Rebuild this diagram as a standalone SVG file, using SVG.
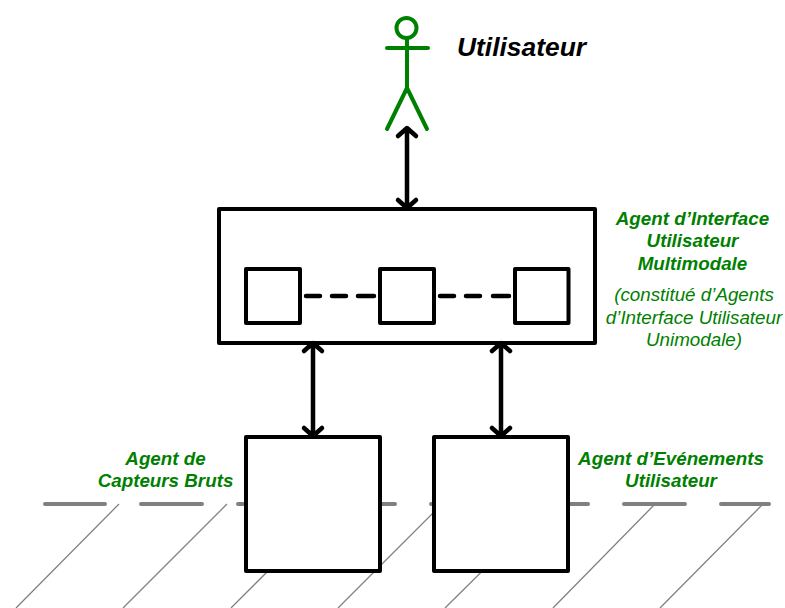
<svg xmlns="http://www.w3.org/2000/svg" width="785" height="608" viewBox="0 0 785 608">
<style>
text{font-family:"Liberation Sans",Arial,sans-serif;text-anchor:middle;fill:#008000;font-style:italic}
.b{font-weight:bold}
.box{fill:#fff;stroke:#000;stroke-width:4;stroke-linejoin:round}
.con{fill:none;stroke:#000;stroke-width:4.500;stroke-linecap:round;stroke-linejoin:round}
.g{fill:none;stroke:#808080;stroke-width:4;stroke-linecap:round}
.h{fill:none;stroke:#808080;stroke-width:1.300}
.act{fill:none;stroke:#008000;stroke-width:4;stroke-linecap:round;stroke-linejoin:round}
</style>
<g id="ground">
<path class="g" d="M45 504H105M141 504H202M238 504H299M334 504H395M431 504H492M527 504H588M624 504H685M721 504H769"/>
<path class="h" d="M119 504L16 608M227 504L123 608M335 504L231 608M442 504L338 608M550 504L445 608M655 504L553 608M763 504L660 608"/>
</g>
<g id="actor">
<circle class="act" cx="406.500" cy="28" r="10"/>
<path class="act" d="M407 38V88M387 48H428M407 88L387 129M407 88L427 129"/>
<text class="b" x="521.500" y="56" style="fill:#000" font-size="26.400">Utilisateur</text>
</g>
<g id="agent-interface">
<rect class="box" x="219" y="209" width="376" height="134"/>
<text class="b" x="692.500" y="225" font-size="18.800">Agent d’Interface</text>
<text class="b" x="692.500" y="247" font-size="18.800">Utilisateur</text>
<text class="b" x="692.500" y="270" font-size="18.800">Multimodale</text>
<text x="694" y="301" font-size="18.800">(constitué d’Agents</text>
<text x="694" y="324" font-size="18.800">d’Interface Utilisateur</text>
<text x="694" y="346" font-size="18.800">Unimodale)</text>
</g>
<g id="sub-1"><rect class="box" x="246" y="269" width="54" height="54"/></g>
<g id="sub-2"><rect class="box" x="380" y="269" width="54" height="54"/></g>
<g id="sub-3"><rect class="box" x="515" y="269" width="53.500" height="54"/></g>
<g id="agent-capteurs">
<rect class="box" x="246" y="437" width="134" height="134"/>
<text class="b" x="165.500" y="465" font-size="18.800">Agent de</text>
<text class="b" x="165.500" y="487" font-size="18.800">Capteurs Bruts</text>
</g>
<g id="agent-evenements">
<rect class="box" x="434" y="437" width="134" height="134"/>
<text class="b" x="671" y="465" font-size="18.800">Agent d’Evénements</text>
<text class="b" x="671" y="487" font-size="18.800">Utilisateur</text>
</g>
<g id="connectors">
<path class="con" d="M407 129V208M398 136L407 128L416 136M398 200L407 208L416 200"/>
<path class="con" d="M313 344V436M304 351L313 343L322 351M304 428L313 436L322 428"/>
<path class="con" d="M501 344V436M492 351L501 343L510 351M492 428L501 436L510 428"/>
<path class="con" d="M306 296H320M332 296H346M358 296H374M440 296H454M466 296H480M493 296H509"/>
</g>
</svg>
